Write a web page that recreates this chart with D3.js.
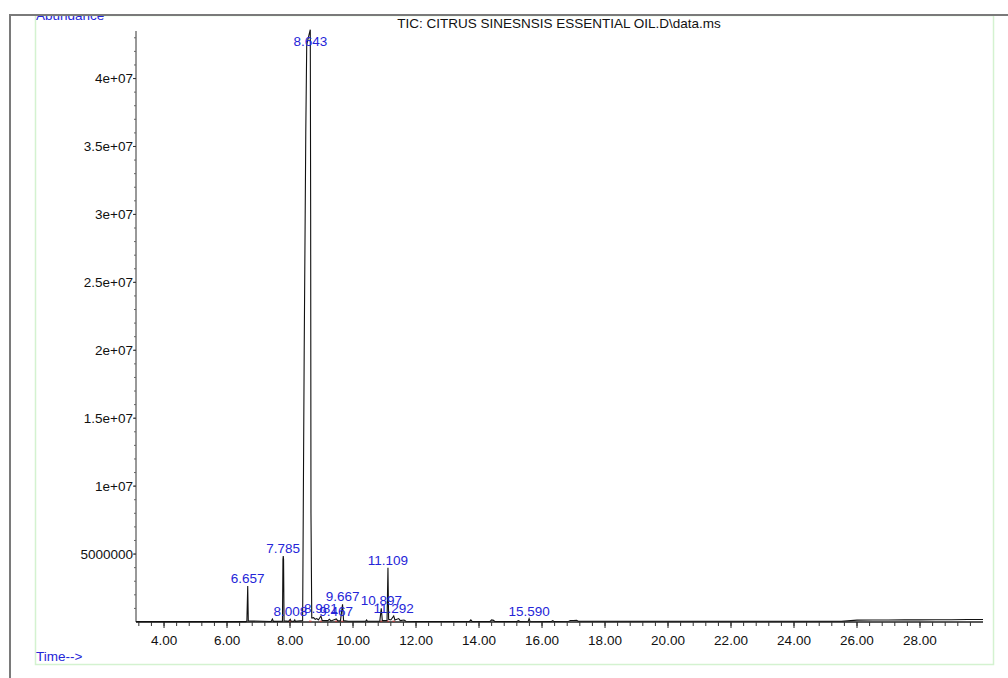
<!DOCTYPE html>
<html>
<head>
<meta charset="utf-8">
<script src="https://cdn.jsdelivr.net/npm/d3@7"></script>
<style>
  html, body { margin: 0; padding: 0; background: #fff; }
  svg { display: block; }
  text { font-family: "Liberation Sans", Arial, sans-serif; }
</style>
</head>
<body>
<div id="viz"></div>
<script>
// TIC trace: retention time (min) and abundance
const traceTime = [
  3.11, 6.60, 6.63, 6.657, 6.675, 7.40, 7.44, 7.47,
  7.76, 7.775, 7.785, 7.795, 7.81, 7.95, 8.008, 8.03, 8.12, 8.15, 8.17,
  8.40, 8.415, 8.45, 8.50, 8.53, 8.60, 8.643, 8.655, 8.665, 8.69,
  8.75, 8.80, 8.85, 8.90, 8.981, 9.02, 9.20, 9.25, 9.30, 9.467, 9.52,
  9.60, 9.667, 9.70, 9.85, 10.00, 10.40, 10.43, 10.46, 10.85, 10.897, 10.93,
  11.08, 11.109, 11.13, 11.20, 11.292, 11.33, 11.45, 11.50, 11.62, 11.68,
  12.00, 13.70, 13.74, 13.78, 14.35, 14.40, 14.46, 14.50, 15.20, 15.25, 15.30,
  15.56, 15.590, 15.62, 16.30, 16.34, 16.38, 16.85, 16.90, 17.00, 17.10, 17.15,
  25.50, 25.80, 26.00, 26.50, 27.00, 27.50, 28.00, 28.50, 29.00, 29.50, 30.00
];
const traceAbundance = [
  3e4, 3e4, 8e4, 2.65e6, 8e4, 4e4, 2.2e5, 5e4,
  6e4, 4.6e6, 4.85e6, 4.6e6, 8e4, 5e4, 2.0e5, 6e4, 5e4, 1.6e5, 5e4,
  1e5, 6e6, 20e6, 36e6, 42.5e6, 43.2e6, 43.6e6, 30e6, 8e6, 3e5,
  3.2e5, 2e5, 2.5e5, 1.5e5, 4.4e5, 1.2e5, 1e5, 2e5, 8e4, 2.2e5, 8e4,
  8e4, 1.3e6, 1e5, 6e4, 5e4, 5e4, 1.5e5, 5e4, 6e4, 1.0e6, 1e5,
  1e5, 4.0e6, 2e5, 1.5e5, 4.4e5, 1.5e5, 2.5e5, 1e5, 1.5e5, 6e4,
  4e4, 4e4, 1.5e5, 4e4, 4e4, 1.5e5, 1.2e5, 4e4, 4e4, 1e5, 4e4,
  5e4, 2.5e5, 5e4, 4e4, 1e5, 4e4, 5e4, 1.1e5, 1.1e5, 1.2e5, 5e4,
  5e4, 1.0e5, 1.4e5, 1.5e5, 1.5e5, 1.6e5, 1.6e5, 1.7e5, 1.7e5, 1.8e5, 1.8e5
];

// labelled peaks
const peakTimes = [6.657, 7.785, 8.008, 8.643, 8.981, 9.467, 9.667, 10.897, 11.109, 11.292, 15.590];
const peakLabels = ["6.657", "7.785", "8.008", "8.643", "8.981", "9.467", "9.667", "10.897", "11.109", "11.292", "15.590"];

// axis ticks
const xTicks = [4, 6, 8, 10, 12, 14, 16, 18, 20, 22, 24, 26, 28];
const xTickLabels = ["4.00", "6.00", "8.00", "10.00", "12.00", "14.00", "16.00", "18.00", "20.00", "22.00", "24.00", "26.00", "28.00"];
const yTicks = [5e6, 1e7, 1.5e7, 2e7, 2.5e7, 3e7, 3.5e7, 4e7];
const yTickLabels = ["5000000", "1e+07", "1.5e+07", "2e+07", "2.5e+07", "3e+07", "3.5e+07", "4e+07"];

const title = "TIC: CITRUS SINESNSIS ESSENTIAL OIL.D\\data.ms";

const width = 1008, height = 678;
const blue = "#2525d8";
const fontSize = "13.5px";

const svg = d3.select("#viz").append("svg")
  .attr("width", width)
  .attr("height", height);

const x = d3.scaleLinear().domain([3.11, 30.0]).range([136, 983]);
const y = d3.scaleLinear().domain([0, 43.5e6]).range([622, 31]);

// light green frame
svg.append("rect")
  .attr("x", 35.5).attr("y", 15.5)
  .attr("width", 958).attr("height", 649)
  .attr("fill", "none")
  .attr("stroke", "#d4f2d0")
  .attr("stroke-width", 1.5);

// "Abundance" (cut off by the window edge)
svg.append("text")
  .attr("x", 36).attr("y", 20)
  .attr("fill", blue)
  .style("font-size", fontSize)
  .text("Abundance");

svg.append("rect")
  .attr("x", 0).attr("y", 0)
  .attr("width", width).attr("height", 15)
  .attr("fill", "#fff");

// outer dark frame
svg.append("path")
  .attr("d", `M10,${height} L10,15 L${width},15`)
  .attr("fill", "none")
  .attr("stroke", "#7a7a7a")
  .attr("stroke-width", 2);

svg.append("text")
  .attr("x", 36).attr("y", 661)
  .attr("fill", blue)
  .style("font-size", fontSize)
  .text("Time-->");

svg.append("text")
  .attr("x", 559).attr("y", 28)
  .attr("text-anchor", "middle")
  .attr("fill", "#111")
  .style("font-size", fontSize)
  .text(title);

// y axis
const yAxis = svg.append("g").attr("transform", "translate(136,0)");
yAxis.append("line")
  .attr("x1", 0).attr("x2", 0)
  .attr("y1", y(43.5e6)).attr("y2", y(0))
  .attr("stroke", "#333");
yAxis.selectAll("line.minor")
  .data(d3.range(1, 44).map(d => d * 1e6))
  .join("line")
  .attr("class", "minor")
  .attr("x1", -2).attr("x2", 0)
  .attr("y1", d => y(d)).attr("y2", d => y(d))
  .attr("stroke", "#666");
yAxis.selectAll("line.major")
  .data(yTicks)
  .join("line")
  .attr("class", "major")
  .attr("x1", -3).attr("x2", 0)
  .attr("y1", d => y(d)).attr("y2", d => y(d))
  .attr("stroke", "#333");
yAxis.selectAll("text")
  .data(yTicks)
  .join("text")
  .attr("x", -3)
  .attr("y", d => y(d))
  .attr("dy", "0.35em")
  .attr("text-anchor", "end")
  .attr("fill", "#111")
  .style("font-size", fontSize)
  .text((d, i) => yTickLabels[i]);

// x axis
const xAxis = svg.append("g").attr("transform", `translate(0,${y(0)})`);
xAxis.append("line")
  .attr("x1", x(3.11)).attr("x2", x(30))
  .attr("stroke", "#222")
  .attr("stroke-width", 1.3);
xAxis.selectAll("line.minor")
  .data(d3.range(8, 75).map(d => d * 0.4))
  .join("line")
  .attr("class", "minor")
  .attr("x1", d => x(d)).attr("x2", d => x(d))
  .attr("y1", 0).attr("y2", 4)
  .attr("stroke", "#333");
xAxis.selectAll("line.major")
  .data(xTicks)
  .join("line")
  .attr("class", "major")
  .attr("x1", d => x(d)).attr("x2", d => x(d))
  .attr("y1", 0).attr("y2", 6)
  .attr("stroke", "#222");
xAxis.selectAll("text")
  .data(xTicks)
  .join("text")
  .attr("x", d => x(d))
  .attr("y", 23)
  .attr("text-anchor", "middle")
  .attr("fill", "#111")
  .style("font-size", fontSize)
  .text((d, i) => xTickLabels[i]);

// integration baselines
svg.append("g")
  .selectAll("line")
  .data(peakTimes.filter(t => t < 12 && t > 7.9))
  .join("line")
  .attr("x1", d => x(d - 0.04)).attr("x2", d => x(d + 0.04))
  .attr("y1", y(6e4)).attr("y2", y(6e4))
  .attr("stroke", "#c83030");

// TIC trace
const line = d3.line()
  .x(i => x(traceTime[i]))
  .y(i => y(traceAbundance[i]));

svg.append("path")
  .datum(d3.range(traceTime.length))
  .attr("d", line)
  .attr("fill", "none")
  .attr("stroke", "#111")
  .attr("stroke-width", 1.1);

// peak labels
const peakHeight = t => traceAbundance[traceTime.indexOf(t)];
svg.append("g")
  .selectAll("text")
  .data(peakTimes)
  .join("text")
  .attr("x", d => x(d))
  .attr("y", d => Math.max(y(peakHeight(d)) - 3, 46))
  .attr("text-anchor", "middle")
  .attr("fill", blue)
  .style("font-size", fontSize)
  .text((d, i) => peakLabels[i]);
</script>
</body>
</html>
